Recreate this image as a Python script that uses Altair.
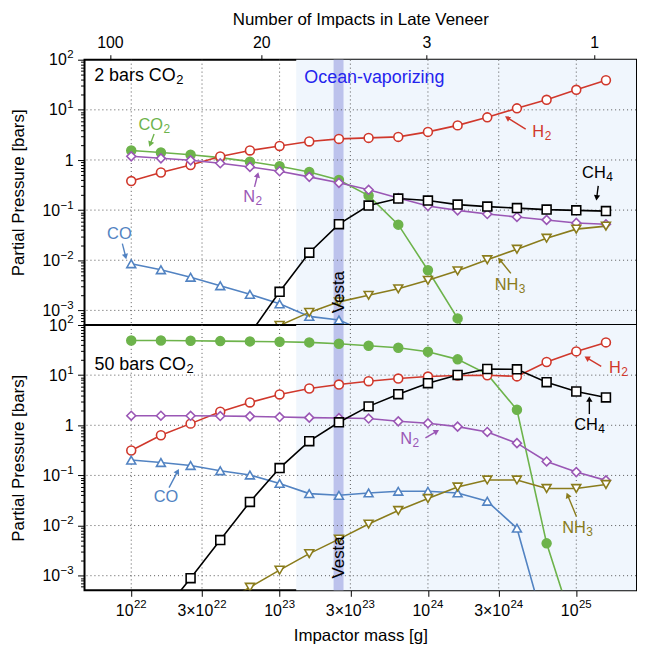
import math
import altair as alt
import pandas as pd

# ---------------- data ----------------
mass_exponent = [22.0, 22.2, 22.4, 22.6, 22.8, 23.0, 23.2, 23.4, 23.6, 23.8,
                 24.0, 24.2, 24.4, 24.6, 24.8, 25.0, 25.2]

# log10 partial pressures [bars], 2 bars CO2 case (None = off chart / absent)
top_CO2 = [0.19, 0.15, 0.105, 0.046, -0.033, -0.126, -0.24, -0.40, -0.71, -1.29,
           -2.20, -3.16, -4.4, None, None, None, None]
top_H2 = [-0.42, -0.25, -0.10, 0.07, 0.19, 0.28, 0.37, 0.42, 0.44, 0.46,
          0.56, 0.69, 0.85, 1.03, 1.20, 1.40, 1.59]
top_N2 = [0.073, 0.033, -0.007, -0.066, -0.139, -0.225, -0.337, -0.456, -0.595, -0.76,
          -0.919, -1.005, -1.078, -1.137, -1.196, -1.256, -1.283]
top_CO = [-2.07, -2.19, -2.34, -2.51, -2.68, -2.87, -3.12, -3.19, -3.45, None,
          None, None, None, None, None, None, None]
top_CH4 = [None, None, None, None, -3.47, -2.63, -1.85, -1.28, -0.91, -0.77,
           -0.81, -0.89, -0.93, -0.96, -0.99, -1.005, -1.02]
top_NH3 = [None, None, None, None, -3.6, -3.30, -3.04, -2.83, -2.70, -2.57,
           -2.40, -2.21, -1.99, -1.78, -1.56, -1.38, -1.32]

# log10 partial pressures [bars], 50 bars CO2 case
bot_CO2 = [1.692, 1.692, 1.686, 1.679, 1.673, 1.667, 1.653, 1.627, 1.587, 1.548,
           1.468, 1.315, 1.02, 0.31, -2.355, -4.2, None]
bot_H2 = [-0.503, -0.199, 0.033, 0.27, 0.456, 0.615, 0.734, 0.813, 0.879, 0.932,
          0.972, 0.992, 0.998, 0.975, 1.262, 1.474, 1.653]
bot_N2 = [0.191, 0.191, 0.190, 0.185, 0.178, 0.165, 0.152, 0.145, 0.135, 0.079,
          0.04, -0.027, -0.133, -0.357, -0.722, -0.933, -1.099]
bot_CO = [-0.694, -0.742, -0.802, -0.907, -0.992, -1.159, -1.363, -1.397, -1.349, -1.317,
          -1.317, -1.349, -1.516, -2.052, -4.16, None, None]
bot_CH4 = [None, -3.79, -3.05, -2.29, -1.528, -0.853, -0.317, 0.06, 0.377, 0.621,
           0.839, 1.004, 1.123, 1.117, 0.859, 0.674, 0.556]
bot_NH3 = [None, None, None, -3.6, -3.23, -2.89, -2.56, -2.27, -1.97, -1.70,
           -1.46, -1.23, -1.09, -1.09, -1.26, -1.26, -1.18]

species = ["CO2", "H2", "N2", "CO", "CH4", "NH3"]
species_color = ["#6db34b", "#d0382c", "#9a57b5", "#5283c2", "#000000", "#8a7c1c"]
species_fill = ["#6db34b", "white", "white", "white", "white", "white"]
species_shape = ["circle", "circle", "diamond", "triangle-up", "square", "triangle-down"]
species_marker_size = [80, 80, 125, 105, 88, 105]

# tick labels: (mass, prefix, exponent)
mass_tick_values = [1e22, 3e22, 1e23, 3e23, 1e24, 3e24, 1e25]
mass_tick_prefix = ["10", "3×10", "10", "3×10", "10", "3×10", "10"]
mass_tick_power = ["22", "22", "23", "23", "24", "24", "25"]
impact_tick_exponent = [21.856, 22.877, 23.989, 25.121]
impact_tick_labels = ["100", "20", "3", "1"]
pressure_tick_values = [1e-3, 1e-2, 1e-1, 1.0, 10.0, 100.0]
pressure_tick_base = ["10", "10", "10", "1", "10", "10"]
pressure_tick_power = ["−3", "−2", "−1", "", "1", "2"]

ocean_start_exp = 23.112
vesta_band_exp = (23.364, 23.431)

# annotations: (main text, subscript, colour key, log mass, log pressure of text centre)
top_labels = [("CO", "2", "CO2", 22.154, 0.714), ("N", "2", "N2", 22.817, -0.714),
              ("CO", "", "CO", 21.920, -1.468), ("H", "2", "H2", 24.766, 0.575),
              ("CH", "4", "CH4", 25.141, -0.238), ("NH", "3", "NH3", 24.552, -2.480)]
top_arrows = [("CO2", (22.154, 0.516), (22.121, 0.258)),
              ("N2", (22.831, -0.536), (22.857, -0.238)),
              ("CO", (21.940, -1.667), (21.967, -1.984)),
              ("H2", (24.659, 0.615), (24.518, 0.873)),
              ("CH4", (25.148, -0.516), (25.135, -0.813)),
              ("NH3", (24.559, -2.262), (24.472, -1.944))]
bot_labels = [("H", "2", "H2", 25.282, 1.157), ("CH", "4", "CH4", 25.088, 0.026),
              ("N", "2", "N2", 23.875, -0.252), ("CO", "", "CO", 22.234, -1.423),
              ("NH", "3", "NH3", 25.007, -2.037)]
bot_arrows = [("H2", (25.168, 1.177), (25.054, 1.375)),
              ("CH4", (25.088, 0.224), (25.088, 0.581)),
              ("N2", (23.983, -0.252), (24.076, -0.093)),
              ("CO", (22.255, -1.244), (22.322, -0.867)),
              ("NH3", (25.001, -1.818), (24.934, -1.341))]
# panel captions: (main, subscript, log mass of left edge, log pressure of centre)
top_caption = ("2 bars CO", "2", 21.75, 1.706)
bot_caption = ("50 bars CO", "2", 21.752, 1.225)

# ---------------- layout ----------------
FONT = "Liberation Sans"
W, H = 555, 267
LOGX = (21.685, 25.4026)
LOGY = (-3.292, 2.0)
PX_X = W / (LOGX[1] - LOGX[0])
PX_Y = H / (LOGY[1] - LOGY[0])
LABEL_FS, SUB_FS, CAP_FS = 16.5, 12, 18
TICK_FS, POW_FS = 16, 11.5

color_keys = species + ["ink", "ocean"]
color_range = species_color + ["#000000", "#2424ee"]
color_scale = alt.Scale(domain=color_keys, range=color_range)
stroke_scale = alt.Scale(domain=species, range=species_color)
fill_scale = alt.Scale(domain=species, range=species_fill)
shape_scale = alt.Scale(domain=species, range=species_shape)
size_scale = alt.Scale(domain=species, range=species_marker_size)
xscale = alt.Scale(type="log", domain=[10 ** LOGX[0], 10 ** LOGX[1]], nice=False)
yscale = alt.Scale(type="log", domain=[10 ** LOGY[0], 10 ** LOGY[1]], nice=False)

CHAR_W = {"C": 0.722, "O": 0.778, "H": 0.722, "N": 0.722, " ": 0.278, "b": 0.556,
          "a": 0.556, "r": 0.333, "s": 0.5, "×": 0.584, "−": 0.584}


def text_width(s, fs):
    return sum(CHAR_W.get(c, 0.556) for c in s) * fs


def label_expr(exps, labels):
    parts = [f"abs(log(datum.value)/LN10 - ({e:.4f})) < 0.005 ? '{l}'" for e, l in zip(exps, labels)]
    return " : ".join(parts) + " : ''"


MAJOR_TEST = "abs(log(datum.value)/LN10 - round(log(datum.value)/LN10)) < 0.001"
y_tick_vals = []
for e in range(-4, 2):
    for m in range(1, 10):
        v = m * 10 ** e
        if 10 ** LOGY[0] <= v <= 100:
            y_tick_vals.append(v)
y_tick_vals.append(100.0)

left_axis = alt.Axis(
    values=y_tick_vals, labels=False,
    tickSize={"condition": {"test": MAJOR_TEST, "value": 7}, "value": 4},
    grid=False, domain=False, title="Partial Pressure [bars]", titlePadding=50,
)
inner_right_axis = alt.Axis(
    orient="left", offset=-W, values=y_tick_vals, labels=False,
    tickSize={"condition": {"test": MAJOR_TEST, "value": 7}, "value": 4},
    grid=False, domain=False, title=None,
)
bottom_axis = alt.Axis(
    orient="bottom", values=mass_tick_values, labels=False,
    tickSize=6, grid=False, domain=False, title="Impactor mass [g]", titlePadding=31,
)
top_axis = alt.Axis(
    orient="top", values=[10 ** e for e in impact_tick_exponent],
    labelExpr=label_expr(impact_tick_exponent, impact_tick_labels),
    tickSize=5, grid=False, domain=False, labelOverlap=False, labelFlush=False,
    title="Number of Impacts in Late Veneer", labelPadding=4, titlePadding=6,
)


def series_frame(series):
    rows = []
    for sp, vals in series.items():
        for e, v in zip(mass_exponent, vals):
            if v is not None:
                rows.append({"species": sp, "mass": 10 ** e, "pressure": 10 ** v})
    return pd.DataFrame(rows)


def arrow_frames(arrows):
    rules, heads = [], []
    for sp, (mt, pt), (mh, ph) in arrows:
        dx = (mh - mt) * PX_X
        dy = -(ph - pt) * PX_Y
        L = math.hypot(dx, dy)
        ux, uy = dx / L, dy / L
        back = 3.0
        cm = mh - ux * back / PX_X
        cp = ph + uy * back / PX_Y
        ang = (math.degrees(math.atan2(dx, -dy)) + 360) % 360
        rules.append({"key": sp, "m1": 10 ** mt, "p1": 10 ** pt, "m2": 10 ** cm, "p2": 10 ** cp})
        heads.append({"key": sp, "m": 10 ** cm, "p": 10 ** cp, "angle": ang})
    return pd.DataFrame(rules), pd.DataFrame(heads)


def text_frames(items, fs, centered):
    """items: (main, sub, key, logm, logp_centre) -> main-text rows and subscript rows."""
    mains, subs = [], []
    for main, sub, key, lm, lp in items:
        wm = text_width(main, fs)
        ws = text_width(sub, SUB_FS) if sub else 0.0
        left = lm - (wm + ws) / 2 / PX_X if centered else lm
        base = lp - 0.358 * fs / PX_Y
        mains.append({"text": main, "key": key, "m": 10 ** left, "p": 10 ** base})
        if sub:
            subs.append({"text": sub, "key": key, "m": 10 ** (left + (wm + 0.5) / PX_X),
                         "p": 10 ** (base - 3.0 / PX_Y)})
    return pd.DataFrame(mains), pd.DataFrame(subs)


def X(field, axis=None):
    return alt.X(field, type="quantitative", scale=xscale, axis=axis)


def Y(field, axis=None):
    return alt.Y(field, type="quantitative", scale=yscale, axis=axis)


def text_layer(df, fs):
    return alt.Chart(df).mark_text(fontSize=fs, baseline="alphabetic", align="left").encode(
        x=X("m:Q"), y=Y("p:Q"), text="text:N",
        color=alt.Color("key:N", scale=color_scale, legend=None))


def y_tick_label_layers():
    right_edge = -11.0
    rows_base, rows_pow = [], []
    for v, b, pw in zip(pressure_tick_values, pressure_tick_base, pressure_tick_power):
        wp = text_width(pw, POW_FS) if pw else 0.0
        rows_base.append({"p": v, "text": b, "xpx": right_edge - wp - (0.5 if pw else 0.0)})
        if pw:
            rows_pow.append({"p": v, "text": pw, "xpx": right_edge})
    base = alt.Chart(pd.DataFrame(rows_base)).mark_text(
        fontSize=TICK_FS, align="right", baseline="alphabetic", dy=5.7, color="black").encode(
        x=alt.X("xpx:Q", scale=None, axis=None), y=Y("p:Q"), text="text:N")
    powr = alt.Chart(pd.DataFrame(rows_pow)).mark_text(
        fontSize=POW_FS, align="right", baseline="alphabetic", dy=-1.6, color="black").encode(
        x=alt.X("xpx:Q", scale=None, axis=None), y=Y("p:Q"), text="text:N")
    return [base, powr]


def x_tick_label_layers():
    rows_base, rows_pow = [], []
    for v, pre, pw in zip(mass_tick_values, mass_tick_prefix, mass_tick_power):
        wb = text_width(pre, TICK_FS)
        wp = text_width(pw, POW_FS)
        left = math.log10(v) - (wb + wp + 0.5) / 2 / PX_X
        rows_base.append({"m": 10 ** left, "text": pre})
        rows_pow.append({"m": 10 ** (left + (wb + 0.5) / PX_X), "text": pw})
    base = alt.Chart(pd.DataFrame(rows_base)).mark_text(
        fontSize=TICK_FS, align="left", baseline="alphabetic", color="black").encode(
        x=X("m:Q"), y=alt.value(H + 26), text="text:N")
    powr = alt.Chart(pd.DataFrame(rows_pow)).mark_text(
        fontSize=POW_FS, align="left", baseline="alphabetic", color="black").encode(
        x=X("m:Q"), y=alt.value(H + 18), text="text:N")
    return [base, powr]


def panel(series, labels, arrows, caption, ocean_text, xaxis, bottom_labels):
    df = series_frame(series)
    region = pd.DataFrame({"a": [10 ** ocean_start_exp], "b": [10 ** LOGX[1]]})
    vesta = pd.DataFrame({"a": [10 ** vesta_band_exp[0]], "b": [10 ** vesta_band_exp[1]]})
    vgrid = pd.DataFrame({"mass": mass_tick_values})
    hgrid = pd.DataFrame({"pressure": pressure_tick_values[:-1]})

    layers = []
    layers.append(alt.Chart(region).mark_rect(color="#f0f6fd").encode(x=X("a:Q", xaxis), x2="b:Q"))
    layers.append(alt.Chart(vesta).mark_rect(color="#bcc2ec").encode(x=X("a:Q"), x2="b:Q"))
    layers.append(alt.Chart(vgrid).mark_rule(color="#555555", strokeDash=[1, 3], strokeWidth=1)
                  .encode(x=X("mass:Q")))
    layers.append(alt.Chart(hgrid).mark_rule(color="#555555", strokeDash=[1, 3], strokeWidth=1)
                  .encode(y=Y("pressure:Q", left_axis)))
    layers.append(alt.Chart(df).mark_line(clip=True, strokeWidth=1.6).encode(
        x=X("mass:Q"), y=Y("pressure:Q"),
        stroke=alt.Stroke("species:N", scale=stroke_scale, legend=None)))
    layers.append(alt.Chart(df).mark_point(clip=True, filled=True, opacity=1, strokeWidth=1.6).encode(
        x=X("mass:Q"), y=Y("pressure:Q", inner_right_axis),
        stroke=alt.Stroke("species:N", scale=stroke_scale, legend=None),
        fill=alt.Fill("species:N", scale=fill_scale, legend=None),
        shape=alt.Shape("species:N", scale=shape_scale, legend=None),
        size=alt.Size("species:N", scale=size_scale, legend=None)))

    rules, heads = arrow_frames(arrows)
    layers.append(alt.Chart(rules).mark_rule(strokeWidth=1.4).encode(
        x=X("m1:Q"), y=Y("p1:Q"), x2="m2:Q", y2="p2:Q",
        color=alt.Color("key:N", scale=color_scale, legend=None)))
    layers.append(alt.Chart(heads).mark_point(shape="triangle-up", filled=True, size=40, opacity=1).encode(
        x=X("m:Q"), y=Y("p:Q"), angle=alt.Angle("angle:Q", scale=None),
        color=alt.Color("key:N", scale=color_scale, legend=None)))

    mains, subs = text_frames(labels, LABEL_FS, True)
    layers.append(text_layer(mains, LABEL_FS))
    layers.append(text_layer(subs, SUB_FS))
    cmain, csub = text_frames([(caption[0], caption[1], "ink", caption[2], caption[3])], CAP_FS, False)
    layers.append(text_layer(cmain, CAP_FS))
    layers.append(text_layer(csub, 13))

    vt = pd.DataFrame({"text": ["Vesta"], "m": [10 ** 23.40], "p": [10 ** (-2.636)]})
    layers.append(alt.Chart(vt).mark_text(fontSize=17, angle=270, baseline="middle", align="center", color="black")
                  .encode(x=X("m:Q"), y=Y("p:Q"), text="text:N"))
    if ocean_text:
        ot = pd.DataFrame({"text": ["Ocean-vaporizing"], "key": ["ocean"],
                           "m": [10 ** 23.167], "p": [10 ** (1.667 - 0.358 * CAP_FS / PX_Y)]})
        layers.append(text_layer(ot, CAP_FS))
    layers.extend(y_tick_label_layers())
    if bottom_labels:
        layers.extend(x_tick_label_layers())
    return alt.layer(*layers).resolve_axis(x="independent", y="independent").properties(width=W, height=H)


top = panel({"CO2": top_CO2, "H2": top_H2, "N2": top_N2, "CO": top_CO, "CH4": top_CH4, "NH3": top_NH3},
            top_labels, top_arrows, top_caption, True, top_axis, False)
bottom = panel({"CO2": bot_CO2, "H2": bot_H2, "N2": bot_N2, "CO": bot_CO, "CH4": bot_CH4, "NH3": bot_NH3},
               bot_labels, bot_arrows, bot_caption, False, bottom_axis, True)

chart = (
    alt.vconcat(top, bottom, spacing=0, bounds="flush",
                padding={"left": 0, "top": 0, "right": 0, "bottom": 0})
    .configure_view(stroke="black", strokeWidth=2)
    .configure_axis(labelFont=FONT, titleFont=FONT, labelFontSize=16, titleFontSize=17,
                    labelColor="black", titleColor="black", tickColor="black",
                    titleFontWeight="normal")
    .configure_text(font=FONT)
)

chart.save("out.html", embed_options={"renderer": "svg", "actions": False})
